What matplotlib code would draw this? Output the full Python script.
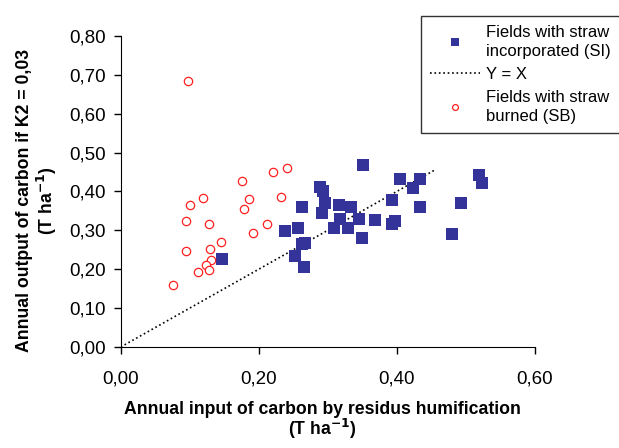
import numpy as np
from matplotlib import pyplot as plt
from matplotlib.ticker import FuncFormatter

# fields with straw incorporated (SI)
si_x = [0.147, 0.238, 0.257, 0.263, 0.253, 0.263, 0.267, 0.266, 0.289, 0.2925,
        0.296, 0.291, 0.316, 0.309, 0.318, 0.329, 0.334, 0.345, 0.351, 0.349,
        0.368, 0.393, 0.393, 0.398, 0.404, 0.424, 0.433, 0.433, 0.4795, 0.493,
        0.519, 0.524]
si_y = [0.226, 0.297, 0.306, 0.359, 0.235, 0.264, 0.268, 0.205, 0.4125, 0.400,
        0.371, 0.345, 0.365, 0.306, 0.330, 0.306, 0.361, 0.330, 0.469, 0.280,
        0.327, 0.377, 0.316, 0.323, 0.433, 0.409, 0.433, 0.361, 0.291, 0.371,
        0.4425, 0.422]

# fields with straw burned (SB)
sb_x = [0.0973, 0.1007, 0.119, 0.094, 0.128, 0.094, 0.146, 0.129, 0.131, 0.124,
        0.112, 0.128, 0.0757, 0.176, 0.186, 0.179, 0.192, 0.221, 0.241, 0.232,
        0.2125]
sb_y = [0.685, 0.365, 0.383, 0.323, 0.316, 0.246, 0.270, 0.252, 0.223, 0.210,
        0.193, 0.197, 0.160, 0.427, 0.380, 0.356, 0.292, 0.449, 0.461, 0.386,
        0.315]

line_x = [0.0, 0.455]

plt.rcParams['font.family'] = ['Liberation Sans', 'DejaVu Sans']

fig = plt.figure(figsize=(6.19, 4.48), dpi=100)
ax = fig.add_axes([0.195, 0.2254, 0.669, 0.6946])

ax.plot(si_x, si_y, 's', color='#333399', markersize=8, markeredgewidth=0,
        label='Fields with straw\nincorporated (SI)', zorder=3)
ax.plot(line_x, line_x, ':', color='black', linewidth=1.2, label='Y = X', zorder=2)
ax.plot(sb_x, sb_y, 'o', markerfacecolor='white', markeredgecolor='#ff2020',
        markersize=6, markeredgewidth=0.9, label='Fields with straw\nburned (SB)', zorder=3)

ax.set_xlim(0, 0.6)
ax.set_ylim(0, 0.8)
ax.set_xticks([0, 0.2, 0.4, 0.6])
ax.set_yticks(np.arange(0, 0.81, 0.1))
fmt = FuncFormatter(lambda v, p: ('%.2f' % v).replace('.', ','))
ax.xaxis.set_major_formatter(fmt)
ax.yaxis.set_major_formatter(fmt)
ax.tick_params(labelsize=13.5, length=5, width=1, direction='out')
ax.tick_params(axis='x', pad=12)
ax.tick_params(axis='y', pad=6)
ax.spines['top'].set_visible(False)
ax.spines['right'].set_visible(False)

ax.set_xlabel('Annual input of carbon by residus humification\n(T ha$^{\\mathbf{-1}}$)',
              fontsize=12.7, fontweight='bold', linespacing=0.95)
ax.set_ylabel('Annual output of carbon if K2 = 0,03\n(T ha$^{\\mathbf{-1}}$)',
              fontsize=12.7, fontweight='bold', linespacing=1.1)
ax.xaxis.set_label_coords(0.488, -0.174)
ax.yaxis.set_label_coords(-0.149, 0.47)

leg = fig.legend(loc='upper left', bbox_to_anchor=(421 / 619, 1 - 16 / 448),
                 fontsize=12, frameon=True, fancybox=False, shadow=False,
                 markerscale=0.7, handlelength=3, handletextpad=0.35,
                 borderpad=0.55, labelspacing=0.5, borderaxespad=0)
for t in leg.get_texts():
    t.set_linespacing(1.3)
leg.get_frame().set_edgecolor('black')
leg.get_frame().set_linewidth(1)

fig.savefig('out.png', dpi=100)
